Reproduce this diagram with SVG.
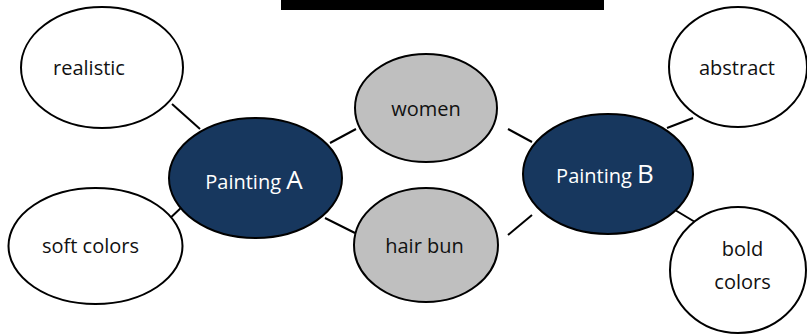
<svg xmlns="http://www.w3.org/2000/svg" width="807" height="335" viewBox="0 0 807 335">
<style>
.w{fill:#ffffff;stroke:#000;stroke-width:2}
.g{fill:#bfbfbf;stroke:#000;stroke-width:2}
.d{fill:#17375e;stroke:#000;stroke-width:2}
.t{font-family:"Open Sans","Liberation Sans",sans-serif;font-size:20px;fill:#111;text-anchor:middle}
.tw{font-family:"Open Sans","Liberation Sans",sans-serif;font-size:20px;fill:#fff;text-anchor:middle}
.c line{stroke:#000;stroke-width:2}
</style>
<rect x="281" y="0" width="323" height="10" fill="#000"/>
<g class="c" id="connectors">
<line x1="172" y1="104" x2="200" y2="129"/>
<line x1="167" y1="221" x2="183" y2="206"/>
<line x1="330" y1="143" x2="356" y2="129"/>
<line x1="325" y1="218" x2="355" y2="233"/>
<line x1="508" y1="129" x2="532" y2="142"/>
<line x1="508" y1="235" x2="532" y2="215"/>
<line x1="667" y1="128" x2="693" y2="118"/>
<line x1="670" y1="207" x2="695" y2="222"/>
</g>
<g id="realistic"><ellipse class="w" cx="102" cy="67.5" rx="81" ry="60.5"/><text class="t" x="89" y="75">realistic</text></g>
<g id="soft-colors"><ellipse class="w" cx="95.5" cy="246" rx="87" ry="58"/><text class="t" x="90.5" y="253">soft colors</text></g>
<g id="painting-a"><ellipse class="d" cx="255.5" cy="178" rx="86.5" ry="60"/><text class="tw" x="254" y="189">Painting <tspan font-size="26">A</tspan></text></g>
<g id="women"><ellipse class="g" cx="426" cy="108" rx="71" ry="54"/><text class="t" x="426" y="116">women</text></g>
<g id="hair-bun"><ellipse class="g" cx="426" cy="245" rx="72" ry="57"/><text class="t" x="424.5" y="253">hair bun</text></g>
<g id="painting-b"><ellipse class="d" cx="608" cy="174" rx="85" ry="60"/><text class="tw" x="605" y="183">Painting <tspan font-size="26">B</tspan></text></g>
<g id="abstract"><ellipse class="w" cx="738" cy="67" rx="69" ry="60"/><text class="t" x="737" y="75">abstract</text></g>
<g id="bold-colors"><ellipse class="w" cx="738" cy="270" rx="68" ry="63"/><text class="t" x="742.5" y="256">bold</text><text class="t" x="742.5" y="289">colors</text></g>
</svg>
